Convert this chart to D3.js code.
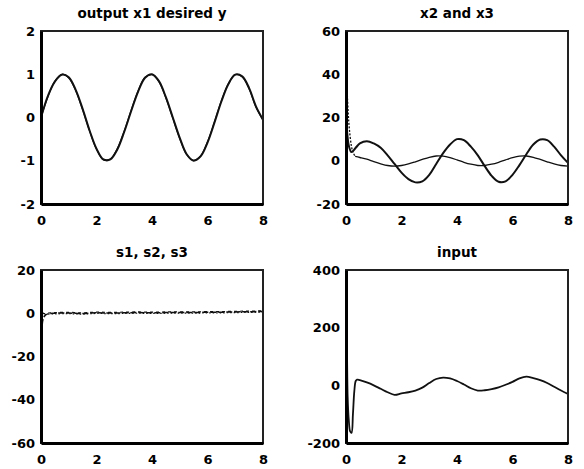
<!DOCTYPE html>
<html>
<head>
<meta charset="utf-8">
<script src="https://cdn.jsdelivr.net/npm/d3@7"></script>
<style>
  body { margin: 0; background: #fff; }
  text { font-family: "DejaVu Sans", sans-serif; font-weight: bold; fill: #000; }
</style>
</head>
<body>
<svg id="chart" width="584" height="469"></svg>
<script>
// tick labels
var tTicks = [0, 2, 4, 6, 8];
var x1Ticks = [-2, -1, 0, 1, 2];
var x23Ticks = [-20, 0, 20, 40, 60];
var sTicks = [-60, -40, -20, 0, 20];
var uTicks = [-200, 0, 200, 400];

// output x1 and desired y
var x1T = [0, 0.25, 0.5, 0.75, 1, 1.25, 1.5, 1.75, 2, 2.25, 2.5, 2.75, 3, 3.25, 3.5, 3.75, 4,
           4.25, 4.5, 4.75, 5, 5.25, 5.5, 5.75, 6, 6.25, 6.5, 6.75, 7, 7.25, 7.5, 7.75, 8];
var x1 = [0, 0.5, 0.83, 0.99, 0.93, 0.64, 0.2, -0.3, -0.72, -0.97, -0.97, -0.74, -0.33, 0.15, 0.6, 0.92, 1,
          0.84, 0.47, 0, -0.47, -0.85, -1, -0.9, -0.58, -0.12, 0.37, 0.77, 0.99, 0.95, 0.68, 0.25, -0.05];
var desiredY = [0, 0.48, 0.84, 1, 0.91, 0.62, 0.18, -0.31, -0.74, -0.98, -0.96, -0.72, -0.31, 0.17, 0.62, 0.93, 0.99,
                0.83, 0.45, -0.02, -0.49, -0.86, -0.99, -0.89, -0.56, -0.1, 0.39, 0.78, 0.99, 0.94, 0.66, 0.23, -0.06];

// x2 and x3
var x2T = [0, 0.05, 0.1, 0.2, 0.35, 0.5, 0.75, 1, 1.25, 1.5, 1.75, 2, 2.25, 2.5, 2.75, 3, 3.25, 3.5, 3.75, 4,
           4.25, 4.5, 4.75, 5, 5.25, 5.5, 5.75, 6, 6.25, 6.5, 6.75, 7, 7.25, 7.5, 7.75, 8];
var x2 = [20, 12, 7, 4, 6, 8, 9, 8, 6, 2.5, -1.5, -5.5, -8.5, -10, -9.5, -6.5, -1.5, 3.5, 7.5, 10,
          9.5, 6.5, 2.5, -2.5, -7, -9.7, -9.5, -6.5, -2, 3, 7.5, 9.8, 9.5, 6.5, 2.5, -1];
// x3 transient at the start, then the steady part
var x3StartT = [0, 0.03, 0.06, 0.1, 0.15, 0.2, 0.25, 0.33];
var x3Start = [45, 36, 27, 18, 11, 6.5, 4, 2];
var x3T = [0.33, 0.5, 0.75, 1, 1.25, 1.5, 1.75, 2, 2.25, 2.5, 2.75, 3,
           3.25, 3.5, 3.75, 4, 4.25, 4.5, 4.75, 5, 5.25, 5.5, 5.75, 6, 6.25, 6.5, 6.75, 7, 7.25, 7.5, 7.75, 8];
var x3 = [2, 1.5, 0.7, -0.4, -1.4, -2.2, -2.5, -2.2, -1.5, -0.5, 0.6, 1.6,
          2.2, 2.1, 1.4, 0.4, -0.7, -1.6, -2.2, -2.2, -1.6, -0.7, 0.4, 1.4, 2.1, 2.2, 1.6, 0.6, -0.5, -1.5, -2.2, -2.5];

// s1, s2, s3
var sT = [0, 0.03, 0.08, 0.15, 0.25, 0.5, 1, 1.5, 2, 2.5, 3, 3.5, 4, 4.5, 5, 5.5, 6, 6.5, 7, 7.5, 8];
var s1 = [-24, -8, -2.5, -1, -0.3, 0, 0.1, -0.1, 0.2, 0.1, 0.2, 0.3, 0.2, 0.3, 0.4, 0.3, 0.5, 0.5, 0.6, 0.7, 0.8];
var s2 = [3, 1, 0, -0.2, 0.1, 0.3, 0.4, 0.2, 0.5, 0.4, 0.5, 0.6, 0.5, 0.6, 0.7, 0.6, 0.8, 0.8, 0.9, 1, 1.1];
var s3 = [-3, -1.5, -0.8, -0.6, -0.4, -0.3, -0.2, -0.4, -0.1, -0.2, -0.1, 0, -0.1, 0, 0.1, 0, 0.2, 0.2, 0.3, 0.4, 0.5];

// input
var uT = [0, 0.03, 0.06, 0.1, 0.15, 0.2, 0.25, 0.3, 0.35, 0.4, 0.5, 0.75, 1, 1.25, 1.5, 1.75, 2, 2.25, 2.5, 2.75, 3,
          3.25, 3.5, 3.75, 4, 4.25, 4.5, 4.75, 5, 5.25, 5.5, 5.75, 6, 6.25, 6.5, 6.75, 7, 7.25, 7.5, 7.75, 8];
var u = [400, 180, -40, -120, -160, -165, -100, -20, 15, 20, 18, 10, 0, -12, -24, -33, -28, -24, -18, -8, 8,
         22, 27, 24, 15, 3, -10, -18, -17, -13, -7, 2, 12, 24, 30, 25, 18, 8, -5, -18, -30];

var svg = d3.select("#chart");

var panels = [
  {id: 0, left: 41, right: 263, top: 31, bottom: 204, title: "output x1 desired y",
   yDomain: [-2, 2], yTicks: x1Ticks,
   lines: [{t: x1T, v: desiredY, w: 1.2, dash: null}, {t: x1T, v: x1, w: 2, dash: null}]},
  {id: 1, left: 346, right: 568, top: 31, bottom: 204, title: "x2 and x3",
   yDomain: [-20, 60], yTicks: x23Ticks,
   lines: [{t: x3StartT, v: x3Start, w: 1.3, dash: "2,1.5"}, {t: x3T, v: x3, w: 1.3, dash: null},
           {t: x2T, v: x2, w: 2, dash: null}]},
  {id: 2, left: 41, right: 263, top: 270, bottom: 443, title: "s1, s2, s3",
   yDomain: [-60, 20], yTicks: sTicks,
   lines: [{t: sT, v: s1, w: 1.5, dash: "6,2"}, {t: sT, v: s2, w: 1.2, dash: "3,3"}, {t: sT, v: s3, w: 1.2, dash: "1.5,2"}]},
  {id: 3, left: 346, right: 568, top: 270, bottom: 443, title: "input",
   yDomain: [-200, 400], yTicks: uTicks,
   lines: [{t: uT, v: u, w: 1.8, dash: null}]}
];

panels.forEach(function(p){
  var x = d3.scaleLinear().domain([0, 8]).range([p.left, p.right]);
  var y = d3.scaleLinear().domain(p.yDomain).range([p.bottom, p.top]);
  var g = svg.append("g");

  g.append("clipPath")
      .attr("id", "clip" + p.id)
    .append("rect")
      .attr("x", p.left)
      .attr("y", p.top)
      .attr("width", p.right - p.left)
      .attr("height", p.bottom - p.top);

  p.lines.forEach(function(s){
    var line = d3.line()
        .x(function(d, i){ return x(s.t[i]); })
        .y(function(d){ return y(d); })
        .curve(d3.curveCatmullRom.alpha(0.5));
    g.append("path")
        .datum(s.v)
        .attr("clip-path", "url(#clip" + p.id + ")")
        .attr("d", line)
        .attr("fill", "none")
        .attr("stroke", "#111")
        .attr("stroke-width", s.w)
        .attr("stroke-dasharray", s.dash)
        .attr("stroke-linejoin", "round");
  });

  // box, top and right edges are lighter
  g.append("rect")
      .attr("x", p.left)
      .attr("y", p.top)
      .attr("width", p.right - p.left)
      .attr("height", p.bottom - p.top)
      .attr("fill", "none")
      .attr("stroke", "#222")
      .attr("stroke-width", 2);

  var xAxis = g.append("g")
      .attr("transform", "translate(0," + p.bottom + ")")
      .call(d3.axisBottom(x).tickValues(tTicks).tickSize(0).tickPadding(12)
              .tickFormat(function(d){ return String(d); }));
  var yAxis = g.append("g")
      .attr("transform", "translate(" + p.left + ",0)")
      .call(d3.axisLeft(y).tickValues(p.yTicks).tickSize(0).tickPadding(6)
              .tickFormat(function(d){ return String(d); }));

  [xAxis, yAxis].forEach(function(a){
    a.attr("font-family", "DejaVu Sans").attr("font-size", 13);
    a.select(".domain").attr("stroke", "#000").attr("stroke-width", 3);
  });

  g.append("text")
      .attr("x", (p.left + p.right) / 2)
      .attr("y", p.top - 13)
      .attr("text-anchor", "middle")
      .attr("font-size", 13.5)
      .text(p.title);
});
</script>
</body>
</html>
